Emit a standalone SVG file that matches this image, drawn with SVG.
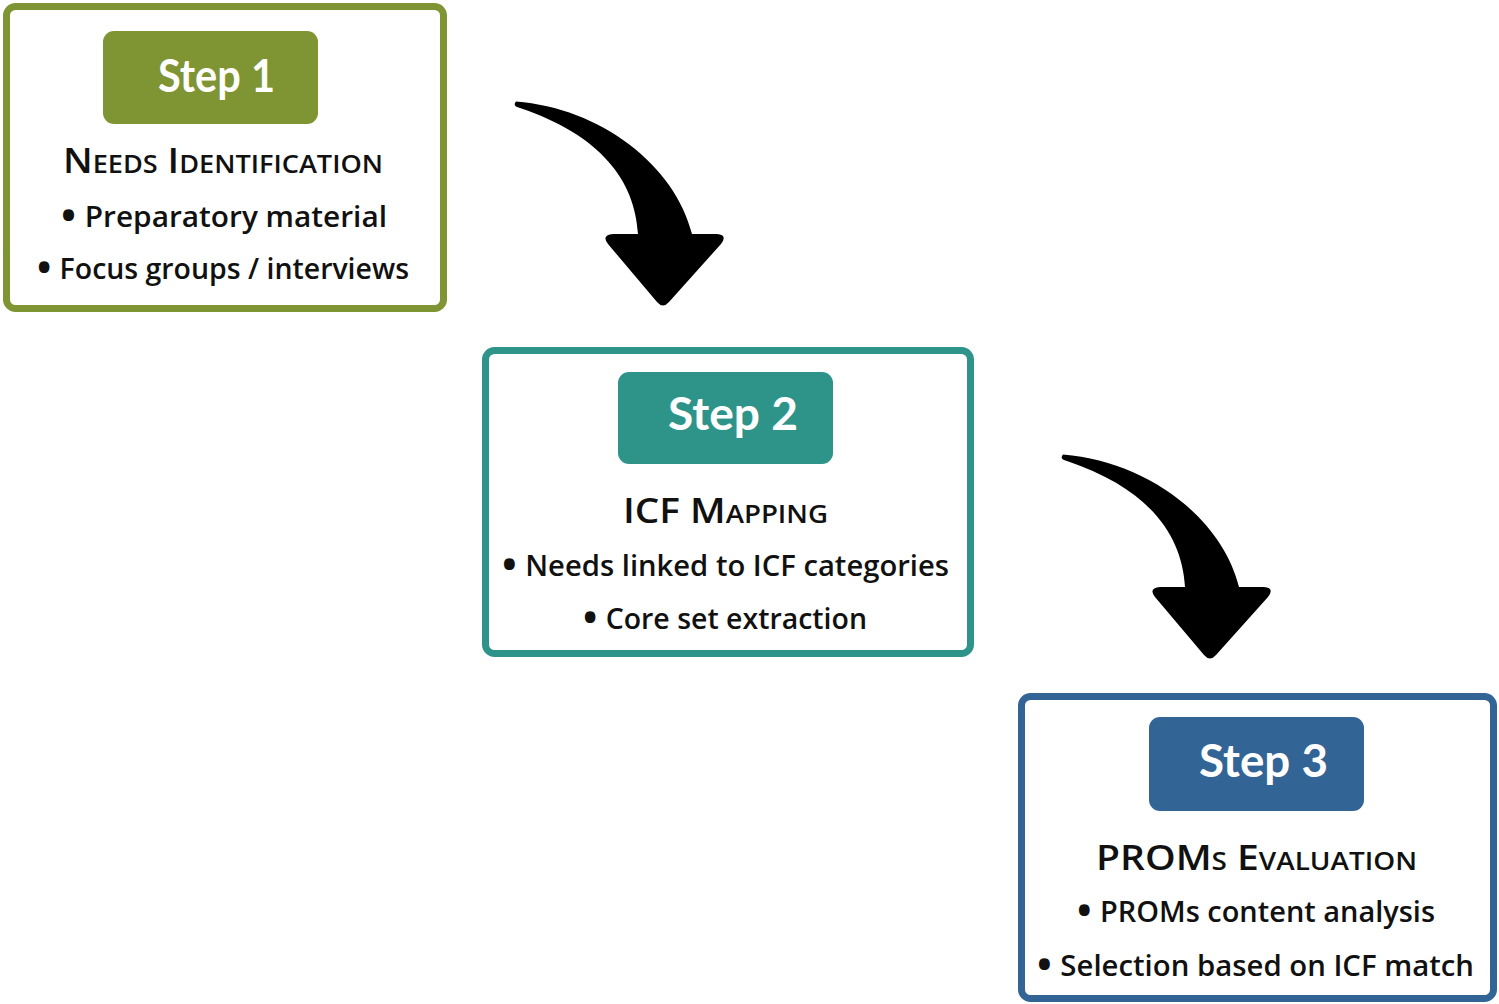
<svg xmlns="http://www.w3.org/2000/svg" width="1499" height="1004" viewBox="0 0 1499 1004">
  <style>
    .box { fill: #ffffff; stroke-width: 7; }
    .tag { stroke: none; }
    .tagtext { font-family: "Lato", "Open Sans", sans-serif; font-weight: bold; font-size: 46px; fill: #ffffff; text-anchor: start; }
    .title { font-family: "Open Sans", "Liberation Sans", sans-serif; font-weight: 600; font-size: 35px; font-variant: small-caps; fill: #111111; text-anchor: start; }
    .item { font-family: "Open Sans", "Liberation Sans", sans-serif; font-weight: 600; font-size: 29px; fill: #111111; text-anchor: start; }
    .dot { font-size: 44px; }
    .arrow { fill: #000000; }
  </style>
  <defs>
    <path id="curvedArrow" d="M 516,101.5 C 600,108 675,165 692,234 L 717,234 Q 728,235 721,244 L 669,302 Q 663,309 657,302 L 608,244 Q 601,235 613,234 L 638,234 C 635,180 600,135 520,108 Q 512,106 516,101.5 Z"/>
  </defs>
  <rect width="1499" height="1004" fill="#ffffff"/>

  <g id="connectors">
    <use href="#curvedArrow" class="arrow"/>
    <use href="#curvedArrow" class="arrow" transform="translate(547,353)"/>
  </g>

  <g id="step1">
    <rect class="box" x="6.5" y="6.5" width="437" height="302" rx="9" stroke="#7f9433"/>
    <rect class="tag" x="103" y="31" width="215" height="93" rx="11" fill="#7f9433"/>
    <text class="tagtext" x="158" y="92" textLength="117" lengthAdjust="spacingAndGlyphs">Step 1</text>
    <text class="title" x="63" y="173" textLength="320" lengthAdjust="spacingAndGlyphs">Needs Identification</text>
    <text class="item" x="60" y="227" textLength="327" lengthAdjust="spacingAndGlyphs"><tspan class="dot" dy="4">•</tspan><tspan dy="-4"> Preparatory material</tspan></text>
    <text class="item" x="36" y="279" textLength="373" lengthAdjust="spacingAndGlyphs"><tspan class="dot" dy="4">•</tspan><tspan dy="-4"> Focus groups / interviews</tspan></text>
  </g>

  <g id="step2">
    <rect class="box" x="485.5" y="350.5" width="485" height="303" rx="9" stroke="#2e948a"/>
    <rect class="tag" x="618" y="372" width="215" height="92" rx="11" fill="#2e948a"/>
    <text class="tagtext" x="668" y="430" textLength="130" lengthAdjust="spacingAndGlyphs">Step 2</text>
    <text class="title" x="623" y="523" textLength="205" lengthAdjust="spacingAndGlyphs">ICF Mapping</text>
    <text class="item" x="501" y="576" textLength="448" lengthAdjust="spacingAndGlyphs"><tspan class="dot" dy="4">•</tspan><tspan dy="-4"> Needs linked to ICF categories</tspan></text>
    <text class="item" x="582" y="629" textLength="285" lengthAdjust="spacingAndGlyphs"><tspan class="dot" dy="4">•</tspan><tspan dy="-4"> Core set extraction</tspan></text>
  </g>

  <g id="step3">
    <rect class="box" x="1021.5" y="696.5" width="472" height="302" rx="9" stroke="#326496"/>
    <rect class="tag" x="1149" y="717" width="215" height="94" rx="11" fill="#326496"/>
    <text class="tagtext" x="1199" y="777" textLength="129" lengthAdjust="spacingAndGlyphs">Step 3</text>
    <text class="title" x="1096" y="870" textLength="321" lengthAdjust="spacingAndGlyphs">PROMs Evaluation</text>
    <text class="item" x="1076" y="922" textLength="359" lengthAdjust="spacingAndGlyphs"><tspan class="dot" dy="4">•</tspan><tspan dy="-4"> PROMs content analysis</tspan></text>
    <text class="item" x="1036" y="976" textLength="438" lengthAdjust="spacingAndGlyphs"><tspan class="dot" dy="4">•</tspan><tspan dy="-4"> Selection based on ICF match</tspan></text>
  </g>
</svg>
